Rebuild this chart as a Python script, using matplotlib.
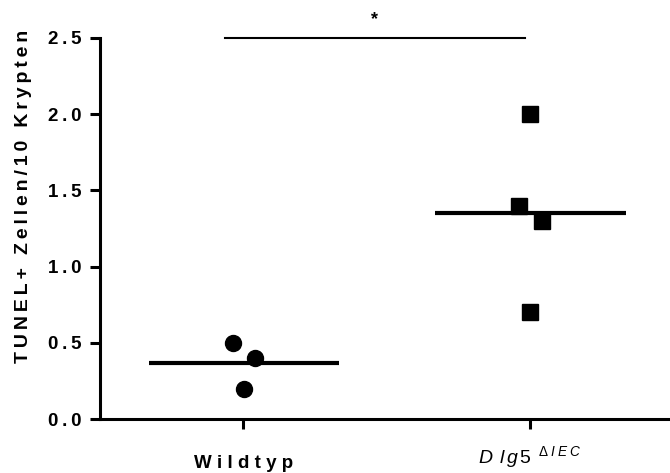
import matplotlib
matplotlib.use("Agg")
import matplotlib.pyplot as plt
import matplotlib.transforms as mtransforms
import numpy as np

plt.rcParams['font.family'] = ['Liberation Sans', 'DejaVu Sans']
plt.rcParams['mathtext.fontset'] = 'custom'
plt.rcParams['mathtext.it'] = 'Liberation Sans:italic'
plt.rcParams['mathtext.rm'] = 'Liberation Sans'

categories = ["Wildtyp", "Dlg5"]
wt_values = [0.5, 0.4, 0.2]
wt_offsets = [-0.035, 0.042, 0.003]
ko_values = [2.0, 1.4, 1.3, 0.7]
ko_offsets = [0.0, -0.038, 0.042, 0.0]
yticks = [0.0, 0.5, 1.0, 1.5, 2.0, 2.5]
ylabel = "TUNEL+ Zellen/10 Krypten"
sig_text = "*"

def spaced(s, sep="\u2009"):
    return sep.join(list(s))

fig = plt.figure(figsize=(6.7, 4.73), dpi=100)
ax = fig.add_axes([100/670, 1-419/473, 1-100/670, (419-38)/473])

ax.plot([0 + o for o in wt_offsets], wt_values, 'o', color='black',
        markersize=11.5, clip_on=False)
ax.plot([1 + o for o in ko_offsets], ko_values, 's', color='black',
        markersize=11.5, clip_on=False)

for i, vals in enumerate([wt_values, ko_values]):
    m = np.mean(vals)
    ax.plot([i - 0.33, i + 0.335], [m, m], color='black', lw=3, solid_capstyle='butt')

ax.plot([-0.063, 0.983], [2.5, 2.5], color='black', lw=1.5, clip_on=False)
ax.text(0.46, 2.62, sig_text, ha='center', va='center', fontsize=13, fontweight='bold')

ax.set_xlim(-0.5, 1.49)
ax.set_ylim(0, 2.5)
ax.set_yticks(yticks)
ax.set_yticklabels([spaced(f"{v:.1f}") for v in yticks],
                   fontsize=13.5, fontweight='bold')
ax.set_xticks([0, 1])
ax.set_xticklabels([spaced(categories[0], " "),
                    r"$\mathit{D\;\,l\,g\,5}^{\ \ \mathit{\Delta\;I\;E\;C}}$"], fontsize=14)
xl = ax.get_xticklabels()
xl[0].set_fontweight('bold')
xl[0].set_fontsize(13.5)

for s in ['top', 'right']:
    ax.spines[s].set_visible(False)
for s in ['left', 'bottom']:
    ax.spines[s].set_linewidth(2.2)
ax.tick_params(axis='both', direction='out', length=7, width=2.2, pad=6)
ax.tick_params(axis='x', pad=19)

offset = mtransforms.ScaledTranslation(0, 11/100, fig.dpi_scale_trans)
xl[1].set_transform(xl[1].get_transform() + offset)

ax.set_ylabel(spaced(ylabel), fontsize=14, fontweight='bold')
ax.yaxis.set_label_coords(-0.12, 0.585)

fig.savefig("out.png", dpi=100)
